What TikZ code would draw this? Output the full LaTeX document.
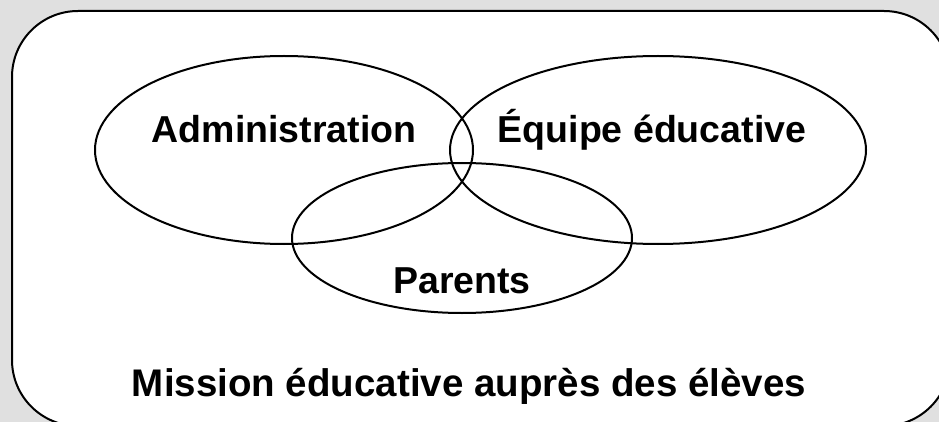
\documentclass[tikz,border=0pt]{standalone}
\usepackage{fontspec}
\setmainfont{Liberation Sans}
\usetikzlibrary{shapes.geometric}
\definecolor{paper}{RGB}{224,224,224}
\tikzset{x=1pt, y=-1pt,
every picture/.style={line width=2pt},
groupe/.style={ % one of the three circles of actors
draw,
ellipse,
inner sep=0pt},
titre/.style={ % bold label, placed on its baseline
anchor=base,
font=\fontsize{37.5}{42}\selectfont\bfseries}}

\begin{document}
\begin{tikzpicture}
\useasboundingbox (0,0) rectangle (939,422);
\fill[paper] (0,0) rectangle (939,422);
\clip (0,0) rectangle (939,422);
\draw[fill=white, rounded corners=66pt] (12,11) rectangle (950,426);
\node[groupe, minimum width=378pt, minimum height=188pt] (admin) at (284,150) {};
\node[groupe, minimum width=416pt, minimum height=188pt] (equipe) at (658,150) {};
\node[groupe, minimum width=340pt, minimum height=150pt] (parents) at (462,238) {};
\node[titre] (tadmin) at (284,143) {Administration};
\node[titre] (tequipe) at (652,143) {Équipe éducative};
\node[titre] (tparents) at (462,293) {Parents};
\node[titre, font=\fontsize{38.5}{42}\selectfont\bfseries] (mission) at (469,396) {Mission éducative auprès des élèves};
\end{tikzpicture}
\end{document}
